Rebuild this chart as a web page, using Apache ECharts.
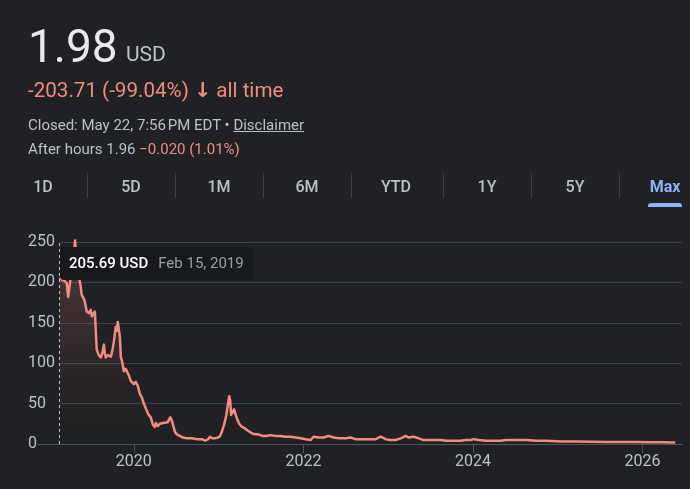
<!DOCTYPE html>
<html>
<head>
<meta charset="utf-8">
<script src="https://cdn.jsdelivr.net/npm/echarts@6/dist/echarts.min.js"></script>
<style>
  html, body { margin:0; padding:0; background:#202124; width:690px; height:489px; overflow:hidden; font-family: Roboto, "DejaVu Sans", sans-serif; }
  #chart { position:absolute; left:0; top:0; width:690px; height:489px; }
  .t { position:absolute; white-space:nowrap; line-height:1; }
  .tab { position:absolute; width:80px; text-align:center; font-size:16px; font-weight:500; color:#bdc1c6; line-height:1; top:179px; }
  .sep { position:absolute; width:1px; top:173px; height:25px; background:#3c4043; }
</style>
</head>
<body>
<div id="chart"></div>

<div class="t" style="left:28px; top:23px; font-size:46px; color:#e8eaed;">1.98</div>
<div class="t" style="left:126px; top:44px; font-size:21px; color:#bdc1c6;">USD</div>
<div class="t" style="left:28px; top:80px; font-size:20.6px; color:#f28b82;">-203.71 (-99.04%) <span style="font-family:'DejaVu Sans';font-weight:bold;">&#8595;</span> all time</div>
<div class="t" style="left:28px; top:118px; font-size:15px; color:#bdc1c6;">Closed: May 22, 7:56&#8239;PM EDT • <span style="text-decoration:underline;">Disclaimer</span></div>
<div class="t" style="left:28px; top:142px; font-size:15px; color:#bdc1c6;">After hours 1.96 <span style="color:#f28b82;">−0.020 (1.01%)</span></div>

<div class="tab" style="left:3px;">1D</div>
<div class="tab" style="left:91px;">5D</div>
<div class="tab" style="left:179px;">1M</div>
<div class="tab" style="left:267px;">6M</div>
<div class="tab" style="left:356px;">YTD</div>
<div class="tab" style="left:447px;">1Y</div>
<div class="tab" style="left:535px;">5Y</div>
<div class="tab" style="left:625px; color:#8ab4f8; font-weight:700;">Max</div>
<div class="sep" style="left:87px;"></div>
<div class="sep" style="left:175px;"></div>
<div class="sep" style="left:263px;"></div>
<div class="sep" style="left:351px;"></div>
<div class="sep" style="left:443px;"></div>
<div class="sep" style="left:531px;"></div>
<div class="sep" style="left:619px;"></div>
<div style="position:absolute; left:648px; top:203px; width:34px; height:4px; background:#8ab4f8; border-radius:3px 3px 0 0;"></div>

<script>
// ---- data ----
const dates = [
 '2019-02-15','2019-02-26','2019-03-09','2019-03-18','2019-03-24','2019-03-31','2019-04-08','2019-04-17','2019-04-23','2019-04-27',
 '2019-05-04','2019-05-08','2019-05-17','2019-05-21','2019-05-30','2019-06-03','2019-06-08','2019-06-12','2019-06-21','2019-06-29',
 '2019-07-04','2019-07-08','2019-07-17','2019-07-21','2019-07-25','2019-08-03','2019-08-12','2019-08-20','2019-08-25','2019-08-29',
 '2019-09-02','2019-09-11','2019-09-24','2019-10-02','2019-10-07','2019-10-15','2019-10-20','2019-10-24','2019-10-28','2019-11-02',
 '2019-11-06','2019-11-10','2019-11-19','2019-11-27','2019-12-01','2019-12-10','2019-12-19','2020-01-01','2020-01-09','2020-01-18',
 '2020-01-27','2020-02-04','2020-02-13','2020-02-26','2020-03-05','2020-03-14','2020-03-18','2020-03-23','2020-03-31','2020-04-05',
 '2020-04-09','2020-04-13','2020-04-22','2020-05-05','2020-05-13','2020-05-26','2020-06-06','2020-06-13','2020-06-17','2020-06-26',
 '2020-07-04','2020-07-17','2020-07-30','2020-08-17','2020-09-07','2020-09-29','2020-10-21','2020-11-03','2020-11-16','2020-11-24',
 '2020-12-03','2020-12-16','2020-12-29','2021-01-07','2021-01-15','2021-01-24','2021-02-02','2021-02-10','2021-02-15','2021-02-19',
 '2021-02-23','2021-02-28','2021-03-08','2021-03-13','2021-03-21','2021-03-30','2021-04-08','2021-04-16','2021-04-25','2021-05-04',
 '2021-05-12','2021-05-25','2021-06-07','2021-06-20','2021-07-08','2021-07-25','2021-08-12','2021-09-02','2021-09-24','2021-10-15',
 '2021-11-06','2021-11-28','2021-12-19','2022-01-10','2022-02-01','2022-02-13','2022-03-07','2022-03-29','2022-04-19','2022-05-11',
 '2022-06-02','2022-07-02','2022-07-23','2022-08-14','2022-09-04','2022-09-26','2022-10-17','2022-11-08','2022-11-29','2022-12-21',
 '2023-01-11','2023-02-02','2023-02-24','2023-03-17','2023-03-30','2023-04-21','2023-05-13','2023-05-30','2023-06-25','2023-07-25',
 '2023-08-16','2023-09-07','2023-09-28','2023-10-20','2023-11-10','2023-12-02','2023-12-23','2024-01-05','2024-01-27','2024-02-26',
 '2024-03-27','2024-05-01','2024-05-22','2024-07-05','2024-08-17','2024-09-30','2024-11-12','2025-01-16','2025-03-22','2025-05-26',
 '2025-07-30','2025-10-03','2025-12-07','2026-02-10','2026-03-25','2026-05-08','2026-05-22'
];
const prices = [
 205.69,203,202,199,182,198,215,235,252,230,
 215,209,195,185,180,177,170,164,162,166,
 158,160,164,162,117,110,107,115,123,112,
 107,110,108,118,127,145,140,151,152,132,
 107,104,90,93,95,85,78,74,77,72,
 62,58,50,41,36,33,31,24,21,26,
 28,22,25,26,27,27,33,29,27,15,
 12,10,8,7,7,6,6,4,6,9,
 7,7,8,10,16,24,35,50,59,54,
 36,34,43,38,31,25,22,21,19,17,
 16,13,12,12,10,10,11,10,10,9,
 9,8,7,6,5,9,8,8,10,8,
 7,7,8,6,6,6,6,6,9,6,
 5,5,7,10,8,9,7,5,5,5,
 5,4,4,4,4,5,5,6,5,4,
 4,4,5,5,5,4,4,3,3,2.8,
 2.6,2.5,2.4,2.3,2.1,2.0,1.98
];
const yTicks = [0, 50, 100, 150, 200, 250];
const xTickDates = ['2020-01-01','2022-01-01','2024-01-01','2026-01-01'];
const xRange = ['2018-11-14', '2026-06-20'];
const currency = 'USD';

// ---- chart ----
const ts = s => Date.UTC(+s.slice(0,4), +s.slice(5,7) - 1, +s.slice(8,10));
const chart = echarts.init(document.getElementById('chart'), null, {renderer:'canvas'});
const seriesData = dates.map((d, i) => [ts(d), prices[i]]);
const xTickTs = xTickDates.map(ts);
const months = ['Jan','Feb','Mar','Apr','May','Jun','Jul','Aug','Sep','Oct','Nov','Dec'];
const font = 'Roboto, "DejaVu Sans", sans-serif';

chart.setOption({
  animation: false,
  backgroundColor: 'transparent',
  grid: [
    {left: 38, right: 8, top: 242, bottom: 45},
    {left: 60, right: 8, top: 242, bottom: 45}
  ],
  xAxis: [
    {
      type: 'value', gridIndex: 0,
      min: ts(xRange[0]), max: ts(xRange[1]),
      axisLine: {show: true, lineStyle: {color: '#505357', width: 1}},
      axisTick: {show: true, length: 9, lineStyle: {color: '#505357'}, customValues: xTickTs},
      axisLabel: {show: true, color: '#bdc1c6', fontSize: 16, fontFamily: font, margin: 10,
        customValues: xTickTs,
        formatter: v => String(new Date(v).getUTCFullYear())},
      splitLine: {show: false}
    },
    {type: 'value', gridIndex: 1, show: false, min: 0, max: 1}
  ],
  yAxis: [
    {type: 'value', gridIndex: 0, min: 0, max: 250, show: false, splitLine: {show: false}},
    {type: 'value', gridIndex: 1, min: 0, max: 250, interval: 50,
      axisLine: {show: false}, axisTick: {show: false},
      axisLabel: {color: '#bdc1c6', fontSize: 16, fontFamily: font, align: 'left', margin: 32,
        formatter: v => yTicks.includes(v) ? String(v) : ''},
      splitLine: {show: true, lineStyle: {color: '#3c4043', width: 1}}
    }
  ],
  tooltip: {
    trigger: 'axis',
    triggerOn: 'none',
    alwaysShowContent: true,
    transitionDuration: 0,
    backgroundColor: '#18191c',
    borderWidth: 0,
    padding: [8, 9],
    extraCssText: 'box-shadow:none;border-radius:4px;line-height:17px;',
    textStyle: {fontFamily: font, fontSize: 15, color: '#ffffff'},
    position: function () { return [60, 247]; },
    axisPointer: {type: 'line', lineStyle: {color: '#bdc1c6', width: 1, type: [3, 3]}, label: {show: false}},
    formatter: function (params) {
      const p = params[0];
      const d = new Date(p.value[0]);
      const ds = months[d.getUTCMonth()] + ' ' + d.getUTCDate() + ', ' + d.getUTCFullYear();
      return '<span style="font-weight:500;color:#ffffff">' + p.value[1].toFixed(2) + ' ' + currency + '</span>' +
             '<span style="color:#9aa0a6;margin-left:10px">' + ds + '</span>';
    }
  },
  series: [{
    type: 'line',
    xAxisIndex: 0, yAxisIndex: 0,
    data: seriesData,
    symbol: 'none',
    clip: false,
    lineStyle: {color: '#f28b82', width: 2.5, join: 'round'},
    areaStyle: {
      color: new echarts.graphic.LinearGradient(0, 0, 0, 1, [
        {offset: 0, color: 'rgba(242,139,130,0.32)'},
        {offset: 0.7, color: 'rgba(242,139,130,0.05)'},
        {offset: 1, color: 'rgba(242,139,130,0)'}
      ])
    },
    emphasis: {disabled: true}
  }]
});

function tip() { chart.dispatchAction({type: 'showTip', seriesIndex: 0, dataIndex: 0}); }
tip();
setTimeout(tip, 50);
</script>
</body>
</html>
